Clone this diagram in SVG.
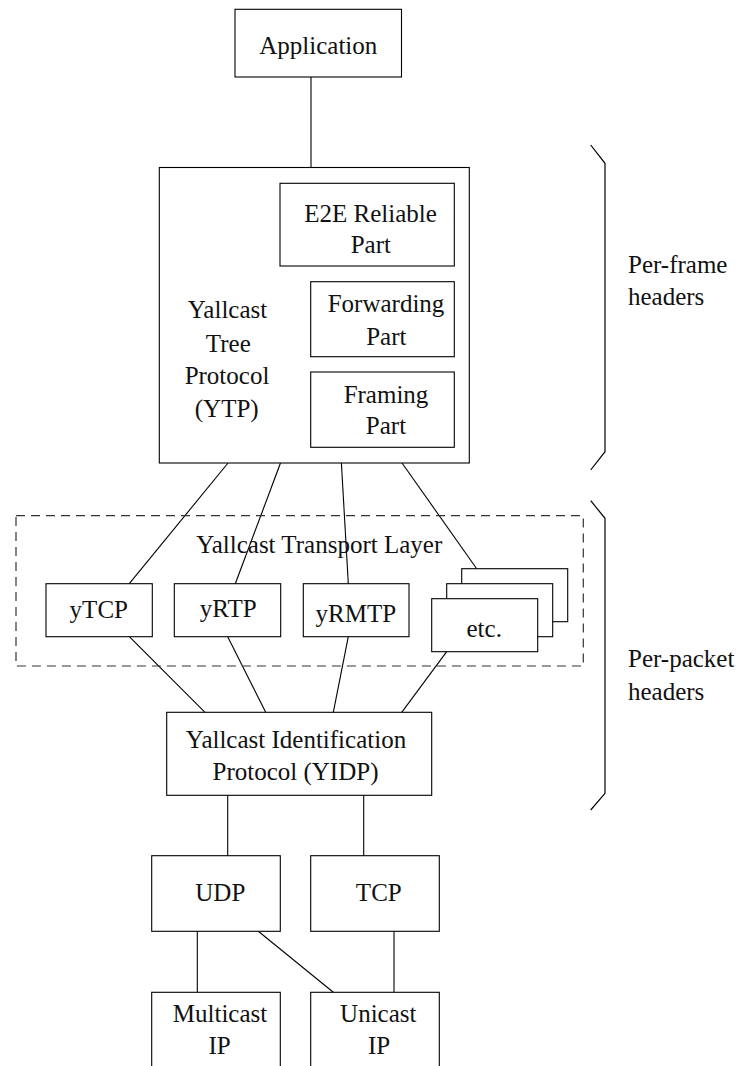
<svg xmlns="http://www.w3.org/2000/svg" width="739" height="1066" viewBox="0 0 739 1066">
  <style>
    .box { fill: #fff; stroke: #000; stroke-width: 1.1; }
    .wire { fill: none; stroke: #000; stroke-width: 1.1; }
    .layer { fill: none; stroke: #333; stroke-width: 1.2; stroke-dasharray: 9 6; }
    .brace { fill: none; stroke: #000; stroke-width: 1.2; }
    text { font-family: "Liberation Serif", "Times New Roman", serif; font-size: 25px; fill: #111; }
    .c { text-anchor: middle; }
  </style>

  <rect width="739" height="1066" fill="#fff"/>

  <!-- connectors between protocol layers -->
  <g id="connectors">
    <line class="wire" x1="311" y1="77" x2="311" y2="167.5"/>
    <line class="wire" x1="228" y1="463" x2="129.3" y2="583.7"/>
    <line class="wire" x1="280.5" y1="463" x2="235.3" y2="583.7"/>
    <line class="wire" x1="341.4" y1="463" x2="348.3" y2="583.7"/>
    <line class="wire" x1="402" y1="463" x2="476.7" y2="568.7"/>
    <line class="wire" x1="129.3" y1="636.7" x2="205" y2="712.3"/>
    <line class="wire" x1="227.7" y1="636.7" x2="265.7" y2="712.3"/>
    <line class="wire" x1="348.3" y1="636.7" x2="333.3" y2="712.3"/>
    <line class="wire" x1="446.7" y1="651.7" x2="401.7" y2="712.3"/>
    <line class="wire" x1="227.7" y1="795.3" x2="227.7" y2="855.7"/>
    <line class="wire" x1="363.7" y1="795.3" x2="363.7" y2="855.7"/>
    <line class="wire" x1="197.3" y1="931.3" x2="197.3" y2="992.3"/>
    <line class="wire" x1="258.3" y1="931.3" x2="333.3" y2="992.3"/>
    <line class="wire" x1="394" y1="931.3" x2="394" y2="992.3"/>
  </g>

  <g id="application">
    <rect class="box" x="235" y="9.3" width="166.5" height="67.7"/>
    <text class="c" x="318.3" y="54">Application</text>
  </g>

  <g id="ytp">
    <rect class="box" x="159.3" y="167.5" width="310" height="295.5"/>
    <text class="c" x="227.5" y="318.3">Yallcast</text>
    <text class="c" x="228.3" y="351.7">Tree</text>
    <text class="c" x="227" y="384">Protocol</text>
    <text class="c" x="226.7" y="416.7">(YTP)</text>
  </g>

  <g id="e2e-reliable">
    <rect class="box" x="280" y="183.3" width="174.3" height="82.7"/>
    <text class="c" x="370.5" y="221.7">E2E Reliable</text>
    <text class="c" x="370.8" y="252.7">Part</text>
  </g>

  <g id="forwarding">
    <rect class="box" x="310.7" y="281.7" width="143.6" height="75"/>
    <text class="c" x="386" y="311.7">Forwarding</text>
    <text class="c" x="386.3" y="345">Part</text>
  </g>

  <g id="framing">
    <rect class="box" x="310.7" y="372" width="143.6" height="75.3"/>
    <text class="c" x="386" y="402.7">Framing</text>
    <text class="c" x="386" y="434">Part</text>
  </g>

  <g id="transport-layer">
    <rect class="layer" x="16" y="515.7" width="567.3" height="150.3"/>
    <text class="c" x="319.2" y="553.3">Yallcast Transport Layer</text>
  </g>

  <g id="ytcp">
    <rect class="box" x="46" y="583.7" width="106.3" height="53"/>
    <text class="c" x="98.8" y="618.3">yTCP</text>
  </g>

  <g id="yrtp">
    <rect class="box" x="174.3" y="583.7" width="106.4" height="53"/>
    <text class="c" x="228.3" y="616.7">yRTP</text>
  </g>

  <g id="yrmtp">
    <rect class="box" x="303.3" y="583.7" width="105.7" height="53"/>
    <text class="c" x="355.8" y="621.7">yRMTP</text>
  </g>

  <g id="etc">
    <rect class="box" x="461.7" y="568.7" width="106" height="53"/>
    <rect class="box" x="446.7" y="583.7" width="106" height="53"/>
    <rect class="box" x="431.7" y="598.7" width="106" height="53"/>
    <text class="c" x="484.2" y="637.3">etc.</text>
  </g>

  <g id="yidp">
    <rect class="box" x="166.7" y="712.3" width="265" height="83"/>
    <text class="c" x="296" y="748.3">Yallcast Identification</text>
    <text class="c" x="295.5" y="780">Protocol (YIDP)</text>
  </g>

  <g id="udp">
    <rect class="box" x="151.7" y="855.7" width="128.6" height="75.6"/>
    <text class="c" x="220.3" y="900.7">UDP</text>
  </g>

  <g id="tcp">
    <rect class="box" x="310.7" y="855.7" width="128.6" height="75.6"/>
    <text class="c" x="378.8" y="900.7">TCP</text>
  </g>

  <g id="multicast-ip">
    <rect class="box" x="151.7" y="992.3" width="128.6" height="90"/>
    <text class="c" x="220" y="1021.7">Multicast</text>
    <text class="c" x="219.5" y="1054.3">IP</text>
  </g>

  <g id="unicast-ip">
    <rect class="box" x="310.7" y="992.3" width="128.6" height="90"/>
    <text class="c" x="378.3" y="1021.7">Unicast</text>
    <text class="c" x="379" y="1054.3">IP</text>
  </g>

  <g id="per-frame">
    <polyline class="brace" points="590.7,145 605,163.3 605,451.7 590.7,470"/>
    <text x="628" y="273.3">Per-frame</text>
    <text x="628" y="305">headers</text>
  </g>

  <g id="per-packet">
    <polyline class="brace" points="590.7,500.7 605,518.3 605,793.3 590.7,810"/>
    <text x="628" y="666.7">Per-packet</text>
    <text x="628" y="700">headers</text>
  </g>
</svg>
